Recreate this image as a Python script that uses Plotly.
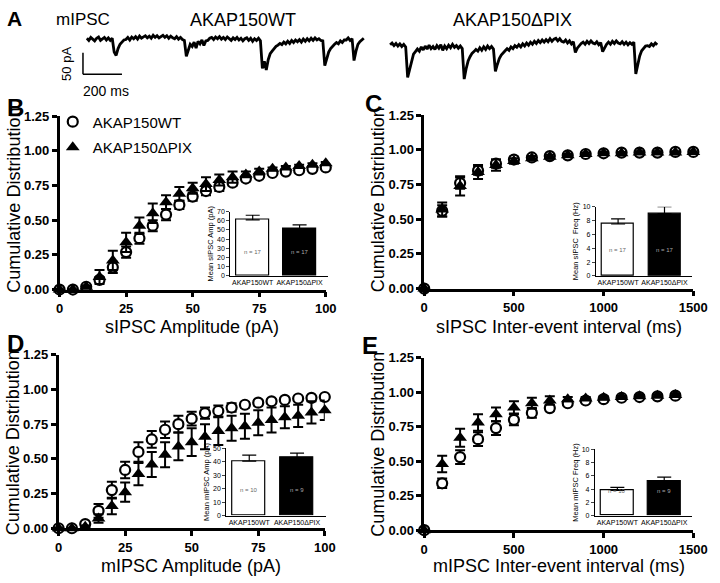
import plotly.graph_objects as go

# ---- data ----
amp_x = [0, 5, 10, 15, 20, 25, 30, 35, 40, 45, 50, 55, 60, 65, 70, 75, 80, 85, 90, 95, 100]
int_x = [0, 100, 200, 300, 400, 500, 600, 700, 800, 900, 1000, 1100, 1200, 1300, 1400, 1500]
int_x_m = [0, 100, 200, 300, 400, 500, 600, 700, 800, 900, 1000, 1100, 1200, 1300, 1400]

# B: sIPSC amplitude
b_wt = [0.00, 0.00, 0.02, 0.07, 0.16, 0.27, 0.37, 0.46, 0.54, 0.61, 0.67, 0.71, 0.74, 0.77, 0.80, 0.82, 0.84, 0.85, 0.86, 0.87, 0.88]
b_wt_err = [0, 0, 0.01, 0.02, 0.04, 0.04, 0.04, 0.04, 0.04, 0.03, 0.03, 0.03, 0.03, 0.02, 0.02, 0.01, 0.01, 0.01, 0.01, 0.01, 0.01]
b_pix = [0.00, 0.00, 0.02, 0.09, 0.21, 0.34, 0.46, 0.55, 0.63, 0.69, 0.73, 0.76, 0.79, 0.81, 0.83, 0.85, 0.87, 0.88, 0.89, 0.90, 0.91]
b_pix_err = [0, 0, 0.01, 0.05, 0.07, 0.07, 0.06, 0.07, 0.05, 0.05, 0.04, 0.05, 0.04, 0.04, 0.02, 0.02, 0.01, 0.01, 0.01, 0.01, 0.01]

# C: sIPSC inter-event interval
c_wt = [0.00, 0.56, 0.76, 0.85, 0.90, 0.93, 0.945, 0.955, 0.96, 0.97, 0.975, 0.98, 0.98, 0.98, 0.985, 0.985]
c_wt_err = [0, 0.04, 0.04, 0.03, 0.03, 0.02, 0.015, 0.01, 0.01, 0.01, 0.01, 0.01, 0.01, 0.01, 0.01, 0.01]
c_pix = [0.00, 0.57, 0.74, 0.84, 0.89, 0.92, 0.94, 0.95, 0.96, 0.97, 0.975, 0.975, 0.98, 0.98, 0.98, 0.985]
c_pix_err = [0, 0.05, 0.07, 0.05, 0.04, 0.02, 0.015, 0.015, 0.01, 0.01, 0.01, 0.01, 0.01, 0.01, 0.01, 0.01]

# D: mIPSC amplitude
d_wt = [0.00, 0.00, 0.03, 0.125, 0.275, 0.42, 0.55, 0.64, 0.71, 0.75, 0.79, 0.83, 0.845, 0.87, 0.89, 0.905, 0.915, 0.925, 0.935, 0.94, 0.946]
d_wt_err = [0, 0, 0.01, 0.05, 0.06, 0.06, 0.07, 0.06, 0.06, 0.06, 0.05, 0.04, 0.04, 0.03, 0.02, 0.02, 0.015, 0.015, 0.015, 0.01, 0.01]
d_pix = [0.00, 0.00, 0.01, 0.07, 0.16, 0.26, 0.39, 0.46, 0.53, 0.59, 0.62, 0.66, 0.70, 0.72, 0.735, 0.76, 0.78, 0.80, 0.81, 0.835, 0.85]
d_pix_err = [0, 0, 0.01, 0.03, 0.06, 0.07, 0.08, 0.09, 0.09, 0.10, 0.10, 0.09, 0.10, 0.09, 0.09, 0.09, 0.09, 0.08, 0.08, 0.08, 0.07]

# E: mIPSC inter-event interval
e_wt = [0.00, 0.34, 0.53, 0.66, 0.74, 0.80, 0.85, 0.885, 0.92, 0.94, 0.95, 0.96, 0.965, 0.97, 0.975]
e_wt_err = [0, 0.035, 0.05, 0.05, 0.05, 0.04, 0.035, 0.02, 0.01, 0.01, 0.01, 0.01, 0.01, 0.01, 0.01]
e_pix = [0.00, 0.48, 0.67, 0.78, 0.84, 0.89, 0.92, 0.94, 0.95, 0.955, 0.96, 0.965, 0.97, 0.975, 0.98]
e_pix_err = [0, 0.06, 0.065, 0.06, 0.05, 0.045, 0.04, 0.03, 0.015, 0.01, 0.01, 0.01, 0.01, 0.01, 0.01]

# inset bar charts
groups = ["AKAP150WT", "AKAP150ΔPIX"]
b_bar = [61, 51]
b_bar_err = [5, 4.5]
c_bar = [7.5, 9.0]
c_bar_err = [0.75, 1.0]
d_bar = [40.5, 43]
d_bar_err = [4.5, 3.5]
e_bar = [3.8, 5.1]
e_bar_err = [0.45, 0.7]
s_n = ["n = 17", "n = 17"]
m_n = ["n = 10", "n = 9"]

# A: example mIPSC traces (pA, 10 ms per sample)
dt = 10
wt_trace = [2, -3, 4, -1, -4, 2, 5, -3, 1, 4,
            -2, 3, -3, 2, -30, -38, -22, -12, -7, -2,
            -1, 4, -2, 5, 1, 6, 0, 7, 2, 6,
            8, 3, 7, 2, 9, 4, 8, 3, 7, 9,
            4, 8, 2, 7, 3, 1, 6, 0, 4, -1,
            -3, -40, -26, -12, -17, -7, -21, -5, -11, -2,
            -15, -4, -3, 2, 4, -1, 5, 1, 6, 0,
            4, -1, 5, 0, -3, 3, -1, 4, -2, 2,
            -4, 1, 3, -3, 2, -5, 1, -3, 2, -4,
            -68, -52, -72, -48, -34, -28, -22, -17, -14, -10,
            -13, -7, -11, -5, -10, -3, -8, -2, -6, -1,
            -7, 0, -5, 1, -4, 2, -3, 3, -2, 1,
            -3, -4, -62, -44, -30, -22, -16, -12, -8, -11,
            -4, -8, -2, -2, 3, -3, 1, -50, -28, -12,
            -6, -1, 2]
pix_trace = [-4, 0, -6, -1, -7, -2, -8, -3, -9, -80,
             -62, -40, -26, -20, -14, -19, -9, -16, -7, -14,
             -5, -13, -8, -15, -6, -12, -4, -17, -7, -13,
             -5, -11, -3, -10, -6, -12, -7, -13, -84, -60,
             -42, -32, -24, -20, -15, -19, -11, -17, -9, -15,
             -7, -13, -8, -14, -66, -50, -36, -28, -22, -18,
             -13, -17, -9, -13, -6, -10, -4, -9, -2, -7,
             0, -5, 2, -3, 4, -1, 6, 1, 7, 2,
             8, 3, 10, 4, 9, 11, 5, 10, 4, 2,
             7, 0, 5, -2, 3, -22, -12, -6, -1, 2,
             -3, 4, -1, 5, 0, -2, 3, -4, 1, -20,
             -10, -3, 2, -3, 4, -1, 5, 0, -2, 3,
             -3, 2, -4, 1, -3, 2, -72, -50, -30, -18,
             -12, -7, -6, -8, -2, -6, 0, -4]
bar_pa = 50
bar_ms = 200

W, H = 720, 583
FONT = "Liberation Sans"


def px(x):
    return x / W


def py(y):
    return 1 - y / H


fig = go.Figure()

wt_marker = dict(symbol="circle", size=10, color="white", line=dict(color="black", width=2.2))
pix_marker = dict(symbol="triangle-up", size=12, color="black", line=dict(color="black", width=0))

panels = [
    ("", amp_x, b_wt, b_wt_err, b_pix, b_pix_err, True),
    ("2", int_x, c_wt, c_wt_err, c_pix, c_pix_err, False),
    ("3", amp_x, d_wt, d_wt_err, d_pix, d_pix_err, False),
    ("4", int_x_m, e_wt, e_wt_err, e_pix, e_pix_err, False),
]
for ax, xs, wt, wte, pix, pixe, leg in panels:
    fig.add_trace(go.Scatter(
        x=xs, y=wt, mode="markers", marker=wt_marker, name="AKAP150WT",
        error_y=dict(type="data", array=wte, color="black", thickness=2, width=5),
        xaxis="x" + ax, yaxis="y" + ax, showlegend=leg, cliponaxis=False, legendgroup="wt"))
    fig.add_trace(go.Scatter(
        x=xs, y=pix, mode="markers", marker=pix_marker, name="AKAP150ΔPIX",
        error_y=dict(type="data", array=pixe, color="black", thickness=2, width=5),
        xaxis="x" + ax, yaxis="y" + ax, showlegend=leg, cliponaxis=False, legendgroup="pix"))

insets = [("5", b_bar, b_bar_err), ("6", c_bar, c_bar_err), ("7", d_bar, d_bar_err), ("8", e_bar, e_bar_err)]
for ax, vals, errs in insets:
    fig.add_trace(go.Bar(
        x=[0, 1], y=vals, width=0.69,
        marker=dict(color=["white", "black"], line=dict(color="black", width=1.2)),
        error_y=dict(type="data", symmetric=False, array=errs, arrayminus=[0, 0],
                     color="black", thickness=1.2, width=7),
        xaxis="x" + ax, yaxis="y" + ax, showlegend=False))

# traces in A
fig.add_trace(go.Scatter(y=wt_trace, x0=0, dx=dt, mode="lines", line=dict(color="black", width=2.8),
                         xaxis="x9", yaxis="y9", showlegend=False))
fig.add_trace(go.Scatter(y=pix_trace, x0=0, dx=dt, mode="lines", line=dict(color="black", width=2.8),
                         xaxis="x10", yaxis="y10", showlegend=False))

main_ax = dict(showline=True, linewidth=2.5, linecolor="black", ticks="outside", ticklen=5,
               tickwidth=2.5, tickcolor="black", showgrid=False, zeroline=False,
               tickfont=dict(family=FONT, size=13, color="black", weight="bold"))
yax = dict(main_ax, range=[0, 1.25], dtick=0.25, tickformat=".2f")

inset_y = dict(showline=True, linewidth=1, linecolor="black", ticks="outside", ticklen=3,
               tickwidth=1, showgrid=False, zeroline=False,
               tickfont=dict(family=FONT, size=7, color="black"))
inset_x = dict(showline=True, linewidth=1, linecolor="black", ticks="", showgrid=False,
               zeroline=False, range=[-0.48, 1.6], tickvals=[0, 1], ticktext=groups,
               tickangle=0, tickfont=dict(family=FONT, size=7, color="black"))
ttl = dict(family=FONT, size=7.5, color="black")
hidden = dict(visible=False)

fig.update_layout(
    width=W, height=H, margin=dict(l=0, r=0, t=0, b=0),
    paper_bgcolor="white", plot_bgcolor="white",
    font=dict(family=FONT, color="black"),
    bargap=0,
    xaxis=dict(main_ax, domain=[px(57), px(330)], range=[0, 100], dtick=25, anchor="y"),
    yaxis=dict(yax, domain=[py(290), py(112)], anchor="x"),
    xaxis2=dict(main_ax, domain=[px(431), px(707)], range=[0, 1500], dtick=500, anchor="y2"),
    yaxis2=dict(yax, domain=[py(289), py(111)], anchor="x2"),
    xaxis3=dict(main_ax, domain=[px(56), px(329)], range=[0, 100], dtick=25, anchor="y3"),
    yaxis3=dict(yax, domain=[py(535), py(357)], anchor="x3"),
    xaxis4=dict(main_ax, domain=[px(431), px(707)], range=[0, 1500], dtick=500, anchor="y4"),
    yaxis4=dict(yax, domain=[py(537), py(360)], anchor="x4"),
    xaxis5=dict(inset_x, domain=[px(232), px(332)], anchor="y5"),
    yaxis5=dict(inset_y, domain=[py(276), py(210)], range=[0, 70], dtick=10, anchor="x5",
                title=dict(text="Mean sIPSC Amp (pA)", font=ttl, standoff=2)),
    xaxis6=dict(inset_x, domain=[px(607), px(706)], anchor="y6"),
    yaxis6=dict(inset_y, domain=[py(276), py(205)], range=[0, 10], dtick=2, anchor="x6",
                title=dict(text="Mean sIPSC  Freq (Hz)", font=ttl, standoff=2)),
    xaxis7=dict(inset_x, domain=[px(228), px(330)], anchor="y7"),
    yaxis7=dict(inset_y, domain=[py(522), py(453)], range=[0, 50], dtick=10, anchor="x7",
                title=dict(text="Mean mIPSC Amp (pA)", font=ttl, standoff=2)),
    xaxis8=dict(inset_x, domain=[px(606), px(706)], anchor="y8"),
    yaxis8=dict(inset_y, domain=[py(522), py(454)], range=[0, 10], dtick=2, anchor="x8",
                title=dict(text="Mean mIPSC Freq (Hz)", font=ttl, standoff=2)),
    xaxis9=dict(hidden, domain=[px(75), px(375)], range=[-50, 1450], anchor="y9"),
    yaxis9=dict(hidden, domain=[py(95), py(20)], range=[-140.9, 29.5], anchor="x9"),
    xaxis10=dict(hidden, domain=[px(390), px(680)], range=[-30, 1420], anchor="y10"),
    yaxis10=dict(hidden, domain=[py(95), py(20)], range=[-131.8, 38.6], anchor="x10"),
    legend=dict(x=px(50), y=py(101), xanchor="left", yanchor="top", bgcolor="rgba(0,0,0,0)",
                font=dict(family=FONT, size=15, color="black"), tracegroupgap=3),
)

# scale bar in A
fig.add_shape(type="line", xref="x9", yref="y9", x0=-20, x1=-20, y0=-32, y1=-32 - bar_pa,
              line=dict(color="black", width=1.5))
fig.add_shape(type="line", xref="x9", yref="y9", x0=-20, x1=-20 + bar_ms, y0=-32 - bar_pa, y1=-32 - bar_pa,
              line=dict(color="black", width=1.5))

ann = []


def txt(x, y, s, size, bold=False, angle=0, color="black"):
    ann.append(dict(x=px(x), y=py(y), xref="paper", yref="paper", text=s, showarrow=False,
                    textangle=angle, xanchor="center", yanchor="middle",
                    font=dict(family=FONT, size=size, color=color, weight="bold" if bold else "normal")))


# panel letters
txt(11, 12, "A", 21, bold=True)
txt(12, 103, "B", 24, bold=True)
txt(379, 99, "C", 24, bold=True)
txt(12, 345, "D", 24, bold=True)
txt(375, 347, "E", 24, bold=True)

# row A labels
txt(81, 13, "mIPSC", 17)
txt(245, 13, "AKAP150WT", 18)
txt(522, 13, "AKAP150ΔPIX", 18)
txt(64, 58, "50 pA", 13, angle=-90)
txt(105, 86, "200 ms", 14)

# axis titles
txt(193, 328, "sIPSC Amplitude (pA)", 18)
txt(569, 328, "sIPSC Inter-event interval (ms)", 18)
txt(192, 574, "mIPSC Amplitude (pA)", 18)
txt(569, 574, "mIPSC Inter-event interval (ms)", 18)
for xx, yy in [(10, 198), (384, 198), (10, 447), (384, 449)]:
    txt(xx, yy, "Cumulative Distribution", 18, angle=-90)

# n labels inside bars
for ax, labels in [("5", s_n), ("6", s_n), ("7", m_n), ("8", m_n)]:
    for i, lab in enumerate(labels):
        ann.append(dict(x=i, y=0.3, xref="x" + ax, yref="y" + ax + " domain", text=lab,
                        showarrow=False, font=dict(family=FONT, size=6,
                                                   color="#666666" if i == 0 else "#aaaaaa")))

fig.update_layout(annotations=ann)

# the page body has a default margin; remove it so the figure sits at the window origin
fig.write_html("out.html", config={"displayModeBar": False},
               post_script="document.body.style.margin='0px';")
